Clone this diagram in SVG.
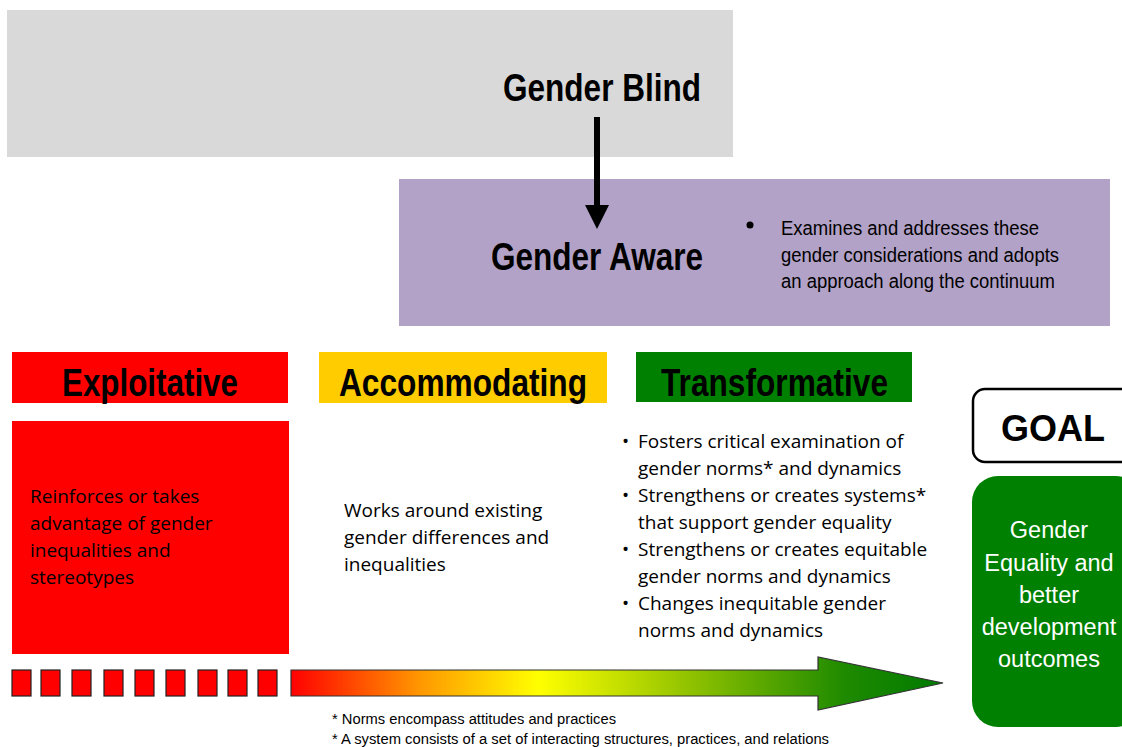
<svg xmlns="http://www.w3.org/2000/svg" width="1122" height="747" viewBox="0 0 1122 747">
  <style>
    .head { font-family: "Liberation Sans", sans-serif; font-weight: bold; font-size: 39px; fill: #000; }
    .narrow { font-family: "Liberation Sans", sans-serif; font-size: 20px; fill: #000; }
    .body { font-family: "Open Sans", "Liberation Sans", sans-serif; font-size: 19px; fill: #000; }
    .note { font-family: "Liberation Sans", sans-serif; font-size: 14px; fill: #000; }
    .dash { fill: #ff0000; stroke: #222; stroke-width: 1.2; }
  </style>
  <defs>
    <linearGradient id="spectrum" x1="291" y1="0" x2="943" y2="0" gradientUnits="userSpaceOnUse">
      <stop offset="0" stop-color="#ff0000"/>
      <stop offset="0.2" stop-color="#ff9900"/>
      <stop offset="0.38" stop-color="#ffff00"/>
      <stop offset="0.62" stop-color="#8cc000"/>
      <stop offset="0.85" stop-color="#1e8a00"/>
      <stop offset="1" stop-color="#007a00"/>
    </linearGradient>
    <marker id="down" markerWidth="4" markerHeight="4" refX="0" refY="2" orient="auto" markerUnits="strokeWidth" viewBox="0 0 4 4">
      <path d="M0,0 L4,2 L0,4 Z" fill="#000"/>
    </marker>
  </defs>

  <rect width="1122" height="747" fill="#ffffff"/>

  <!-- Gender Blind -->
  <g id="gender-blind">
    <rect x="7" y="10" width="726" height="147" fill="#d9d9d9"/>
    <text class="head" x="503" y="101" textLength="198" lengthAdjust="spacingAndGlyphs">Gender Blind</text>
  </g>

  <!-- Gender Aware -->
  <g id="gender-aware">
    <rect x="399" y="179" width="711" height="147" fill="#b2a2c7"/>
    <text class="head" x="491" y="270" textLength="212" lengthAdjust="spacingAndGlyphs">Gender Aware</text>
    <circle cx="750" cy="225" r="3.5" fill="#000"/>
    <text class="narrow" x="781" y="235" textLength="258" lengthAdjust="spacingAndGlyphs">Examines and addresses these</text>
    <text class="narrow" x="781" y="262" textLength="278" lengthAdjust="spacingAndGlyphs">gender considerations and adopts</text>
    <text class="narrow" x="781" y="288" textLength="274" lengthAdjust="spacingAndGlyphs">an approach along the continuum</text>
  </g>

  <!-- Exploitative -->
  <g id="exploitative">
    <rect x="12" y="352" width="276" height="51" fill="#ff0000"/>
    <text class="head" x="62" y="396" textLength="176" lengthAdjust="spacingAndGlyphs">Exploitative</text>
    <rect x="12" y="421" width="277" height="233" fill="#ff0000"/>
    <text class="body" x="30" y="503">Reinforces or takes</text>
    <text class="body" x="30" y="530">advantage of gender</text>
    <text class="body" x="30" y="557">inequalities and</text>
    <text class="body" x="30" y="584">stereotypes</text>
  </g>

  <!-- Accommodating -->
  <g id="accommodating">
    <rect x="319" y="352" width="288" height="51" fill="#ffcc00"/>
    <text class="head" x="339" y="396" textLength="248" lengthAdjust="spacingAndGlyphs">Accommodating</text>
    <text class="body" x="344" y="517">Works around existing</text>
    <text class="body" x="344" y="544">gender differences and</text>
    <text class="body" x="344" y="571">inequalities</text>
  </g>

  <!-- Transformative -->
  <g id="transformative">
    <rect x="636" y="352" width="276" height="50" fill="#008000"/>
    <text class="head" x="661" y="396" textLength="227" lengthAdjust="spacingAndGlyphs">Transformative</text>
    <g class="body">
      <text x="622" y="448">•</text>
      <text x="638" y="448">Fosters critical examination of</text>
      <text x="638" y="475">gender norms* and dynamics</text>
      <text x="622" y="502">•</text>
      <text x="638" y="502">Strengthens or creates systems*</text>
      <text x="638" y="529">that support gender equality</text>
      <text x="622" y="556">•</text>
      <text x="638" y="556">Strengthens or creates equitable</text>
      <text x="638" y="583">gender norms and dynamics</text>
      <text x="622" y="610">•</text>
      <text x="638" y="610">Changes inequitable gender</text>
      <text x="638" y="637">norms and dynamics</text>
    </g>
  </g>

  <!-- Goal -->
  <g id="goal">
    <rect x="973" y="389" width="160" height="73" rx="12" fill="#ffffff" stroke="#000" stroke-width="2.5"/>
    <text x="1053" y="441" font-family="Liberation Sans, sans-serif" font-weight="bold" font-size="36" text-anchor="middle">GOAL</text>
  </g>
  <g id="goal-outcome">
    <rect x="972" y="476" width="170" height="251" rx="26" fill="#008000"/>
    <g font-family="Liberation Sans, sans-serif" font-size="23.5" fill="#ffffff" text-anchor="middle">
      <text x="1049" y="538">Gender</text>
      <text x="1049" y="571">Equality and</text>
      <text x="1049" y="603">better</text>
      <text x="1049" y="635">development</text>
      <text x="1049" y="667">outcomes</text>
    </g>
  </g>

  <!-- Connectors -->
  <g id="connectors">
    <line x1="597" y1="117" x2="597" y2="205" stroke="#000" stroke-width="6" marker-end="url(#down)"/>
    <!-- dashed lead-in of the continuum -->
    <rect class="dash" x="12" y="670" width="19" height="26"/>
    <rect class="dash" x="41" y="670" width="19" height="26"/>
    <rect class="dash" x="72" y="670" width="19" height="26"/>
    <rect class="dash" x="104" y="670" width="19" height="26"/>
    <rect class="dash" x="135" y="670" width="19" height="26"/>
    <rect class="dash" x="166" y="670" width="19" height="26"/>
    <rect class="dash" x="198" y="670" width="19" height="26"/>
    <rect class="dash" x="228" y="670" width="19" height="26"/>
    <rect class="dash" x="258" y="670" width="19" height="26"/>
    <!-- continuum arrow -->
    <path d="M291,670 L818,670 L818,657 L943,683 L818,710 L818,696 L291,696 Z" fill="url(#spectrum)" stroke="#333" stroke-width="1.2"/>
  </g>

  <!-- Footnotes -->
  <g id="footnotes">
    <text class="note" x="332" y="724" textLength="284" lengthAdjust="spacingAndGlyphs">* Norms encompass attitudes and practices</text>
    <text class="note" x="332" y="744" textLength="497" lengthAdjust="spacingAndGlyphs">* A system consists of a set of interacting structures, practices, and relations</text>
  </g>
</svg>
